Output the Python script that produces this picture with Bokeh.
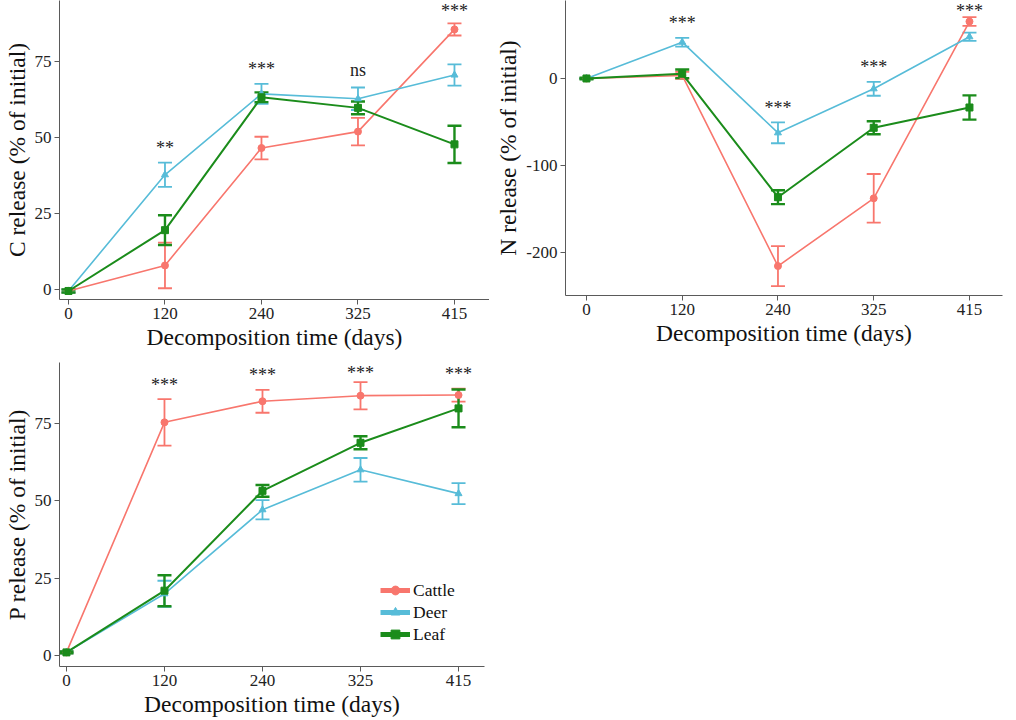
from bokeh.plotting import figure
from bokeh.models import (ColumnDataSource, Whisker, TeeHead, FixedTicker, Range1d,
                          Legend, LegendItem, LabelSet)
from bokeh.layouts import column, row
from bokeh.embed import file_html
from bokeh.resources import INLINE

days = ["0", "120", "240", "325", "415"]
groups = ["Cattle", "Deer", "Leaf"]
colors = {"Cattle": "#F8766D", "Deer": "#57BCD8", "Leaf": "#1B8C1B"}
markers = {"Cattle": "circle", "Deer": "triangle", "Leaf": "square"}

c_cattle = [-0.5, 7.9, 46.5, 51.9, 85.5]
c_cattle_se = [0.5, 7.5, 3.7, 4.5, 2.0]
c_deer = [-0.5, 37.7, 64.3, 62.7, 70.5]
c_deer_se = [0.5, 4.0, 3.3, 3.7, 3.5]
c_leaf = [-0.5, 19.5, 63.2, 59.7, 47.7]
c_leaf_se = [0.5, 4.9, 1.6, 2.1, 6.1]
c_sig = ["", "**", "***", "ns", "***"]

n_cattle = [0.0, 3.5, -216.0, -138.0, 65.6]
n_cattle_se = [0.8, 4.0, 23.0, 28.0, 5.0]
n_deer = [0.0, 41.8, -62.6, -11.9, 48.0]
n_deer_se = [0.8, 5.0, 12.0, 8.0, 4.8]
n_leaf = [0.0, 5.4, -136.7, -56.8, -33.4]
n_leaf_se = [0.8, 5.0, 8.0, 7.5, 14.0]
n_sig = ["", "***", "***", "***", "***"]

p_cattle = [1.1, 75.3, 82.1, 83.9, 84.1]
p_cattle_se = [0.3, 7.5, 3.7, 4.4, 2.1]
p_deer = [1.1, 20.0, 47.1, 60.0, 52.3]
p_deer_se = [0.3, 4.2, 3.1, 3.8, 3.4]
p_leaf = [1.1, 21.0, 53.2, 68.7, 79.8]
p_leaf_se = [0.3, 5.0, 1.9, 2.1, 6.1]
p_sig = ["", "***", "***", "***", "***"]

FONT = "Liberation Serif"
AX = "#5a5a5a"
widths = {"Cattle": 1.6, "Deer": 1.6, "Leaf": 2.0}
ewidths = {"Cattle": 1.8, "Deer": 1.8, "Leaf": 2.4}
NAN = float("nan")


def make_panel(ylabel, series, sig, xr, yr, yticks, fw, fh, bl, bt, br, bb, legend_loc=None):
    p = figure(frame_width=fw, frame_height=fh, x_range=Range1d(*xr), y_range=Range1d(*yr),
               output_backend="svg", toolbar_location=None,
               min_border_left=bl, min_border_top=bt, min_border_right=br, min_border_bottom=bb)
    p.outline_line_color = None
    p.xgrid.visible = False
    p.ygrid.visible = False
    p.xaxis.ticker = FixedTicker(ticks=list(range(len(days))))
    p.xaxis.major_label_overrides = {i: d for i, d in enumerate(days)}
    p.yaxis.ticker = FixedTicker(ticks=yticks)
    p.yaxis.major_label_overrides = {t: str(t) for t in yticks}
    for ax in (p.xaxis[0], p.yaxis[0]):
        ax.axis_line_color = AX
        ax.major_tick_line_color = AX
        ax.minor_tick_line_color = None
        ax.major_tick_out = 5
        ax.major_tick_in = 0
        ax.major_label_text_font = FONT
        ax.major_label_text_font_size = "17px"
        ax.major_label_text_color = "#222222"
        ax.axis_label_text_font = FONT
        ax.axis_label_text_font_size = "23.5px"
        ax.axis_label_text_font_style = "normal"
        ax.axis_label_text_color = "#111111"
        ax.major_label_standoff = 3
        ax.axis_label_standoff = 2
    p.xaxis.axis_label = "Decomposition time (days)"
    p.yaxis.axis_label = ylabel

    xs = list(range(len(days)))
    items = []
    tops = [None] * len(days)
    for g, (vals, errs) in zip(groups, series):
        col = colors[g]
        up = [v + e for v, e in zip(vals, errs)]
        lo = [v - e for v, e in zip(vals, errs)]
        for i in range(len(days)):
            tops[i] = up[i] if tops[i] is None else max(tops[i], up[i])
        src = ColumnDataSource(dict(x=xs, y=vals, upper=up, lower=lo))
        w = Whisker(base="x", upper="upper", lower="lower", source=src,
                    line_color=col, line_width=ewidths[g],
                    upper_head=TeeHead(size=14, line_color=col, line_width=ewidths[g]),
                    lower_head=TeeHead(size=14, line_color=col, line_width=ewidths[g]))
        p.add_layout(w)
        ln = p.line("x", "y", source=src, line_color=col, line_width=widths[g])
        sc = p.scatter("x", "y", source=src, marker=markers[g], size=7,
                       fill_color=col, line_color=col)
        key_line = p.line(x=[NAN, NAN], y=[NAN, NAN], line_color=col, line_width=5)
        items.append(LegendItem(label=g, renderers=[key_line, sc]))

    # significance marks above the highest error bar; keep them inside the frame
    ppu = fh / (yr[1] - yr[0])
    sx, sy, st, so = [], [], [], []
    for i, s in enumerate(sig):
        if s:
            gap_to_top = (yr[1] - tops[i]) * ppu
            off = 11 if s == "ns" else 8.5
            off = min(off, gap_to_top - 16)
            sx.append(xs[i])
            sy.append(tops[i])
            st.append(s)
            so.append(off)
    lsrc = ColumnDataSource(dict(x=sx, y=sy, t=st, o=so))
    labels = LabelSet(x="x", y="y", text="t", source=lsrc, y_offset="o",
                      text_align="center", text_baseline="alphabetic",
                      text_font=FONT, text_font_size="18px", text_color="#222222")
    p.add_layout(labels)

    if legend_loc is not None:
        lg = Legend(items=items, location=legend_loc, background_fill_alpha=0,
                    border_line_color=None, label_text_font=FONT,
                    label_text_font_size="17.5px", label_text_color="#111111",
                    glyph_width=30, glyph_height=22, spacing=0, padding=2,
                    label_standoff=3)
        p.add_layout(lg)
    return p


p1 = make_panel("C release (% of initial)",
                [(c_cattle, c_cattle_se), (c_deer, c_deer_se), (c_leaf, c_leaf_se)], c_sig,
                (-0.093, 4.363), (-3.3, 95.0), [0, 25, 50, 75], 430, 299, 59, 0, 0, 58)
p2 = make_panel("N release (% of initial)",
                [(n_cattle, n_cattle_se), (n_deer, n_deer_se), (n_leaf, n_leaf_se)], n_sig,
                (-0.219, 4.345), (-249.9, 89.8), [-200, -100, 0], 437, 295, 76, 0, 6, 55)
p3 = make_panel("P release (% of initial)",
                [(p_cattle, p_cattle_se), (p_deer, p_deer_se), (p_leaf, p_leaf_se)], p_sig,
                (-0.071, 4.265), (-3.45, 94.6), [0, 25, 50, 75], 425, 304, 59, 5, 11, 44,
                legend_loc=(321, 21))

layout = column(row(p1, p2), p3)
open("out.html", "w").write(file_html(layout, INLINE))
